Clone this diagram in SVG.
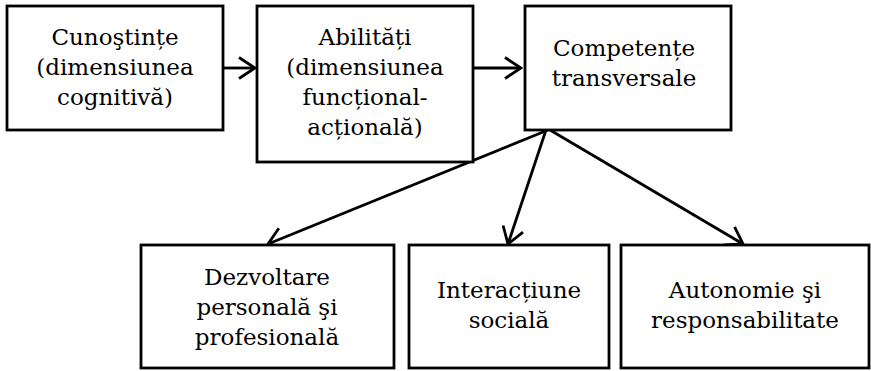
<svg xmlns="http://www.w3.org/2000/svg" width="871" height="371" viewBox="0 0 871 371">
<style>
.box{fill:#fff;stroke:#000;stroke-width:2.8}
.t{font-family:"DejaVu Serif","Liberation Serif",serif;font-size:23px;fill:#000;text-anchor:middle}
.c{stroke:#000;stroke-width:2.8;fill:none;marker-end:url(#arr)}
</style>
<defs>
<marker id="arr" markerUnits="userSpaceOnUse" viewBox="-20 -13 22 26" markerWidth="22" markerHeight="26" refX="0" refY="0" orient="auto">
<path d="M-16,-10.5 L0,0 L-16,10.5" fill="none" stroke="#000" stroke-width="2.8"/>
</marker>
</defs>
<rect width="871" height="371" fill="#fff"/>
<g id="connectors">
<line class="c" x1="223" y1="68" x2="255" y2="68"/>
<line class="c" x1="473" y1="68" x2="521" y2="68"/>
<line class="c" x1="548" y1="130" x2="268" y2="244"/>
<line class="c" x1="546" y1="130" x2="508" y2="244"/>
<line class="c" x1="550" y1="130" x2="743" y2="244"/>
</g>
<g id="n1">
<rect class="box" x="7" y="6" width="216" height="124"/>
<text class="t" x="115" y="45">Cunoştințe</text>
<text class="t" x="115" y="75">(dimensiunea</text>
<text class="t" x="115" y="105">cognitivă)</text>
</g>
<g id="n2">
<rect class="box" x="257" y="6" width="216" height="156"/>
<text class="t" x="365" y="45">Abilități</text>
<text class="t" x="365" y="75">(dimensiunea</text>
<text class="t" x="365" y="105">funcțional-</text>
<text class="t" x="365" y="135">acțională)</text>
</g>
<g id="n3">
<rect class="box" x="525" y="6" width="206" height="124"/>
<text class="t" x="624" y="56">Competențe</text>
<text class="t" x="624" y="86">transversale</text>
</g>
<g id="n4">
<rect class="box" x="141" y="245" width="253" height="123"/>
<text class="t" x="267" y="285">Dezvoltare</text>
<text class="t" x="267" y="315">personală şi</text>
<text class="t" x="267" y="345">profesională</text>
</g>
<g id="n5">
<rect class="box" x="409" y="245" width="200" height="123"/>
<text class="t" x="509" y="298">Interacțiune</text>
<text class="t" x="509" y="328">socială</text>
</g>
<g id="n6">
<rect class="box" x="621" y="245" width="248" height="123"/>
<text class="t" x="745" y="298">Autonomie şi</text>
<text class="t" x="745" y="328">responsabilitate</text>
</g>
</svg>
